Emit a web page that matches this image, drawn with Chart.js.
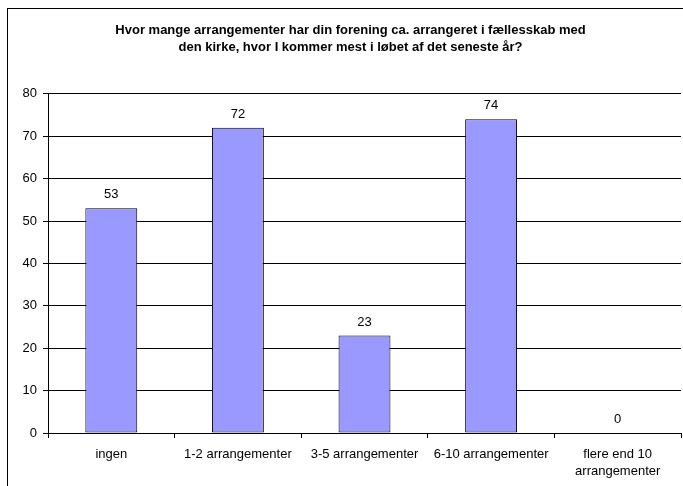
<!DOCTYPE html>
<html>
<head>
<meta charset="utf-8">
<script src="https://cdn.jsdelivr.net/npm/chart.js@4"></script>
<style>
  html, body { margin: 0; padding: 0; background: #fff; }
  #wrap { width: 683px; height: 486px; position: relative; }
</style>
</head>
<body>
<div id="wrap"><canvas id="chart" width="683" height="486"></canvas></div>
<script>
const categories = ['ingen', '1-2 arrangementer', '3-5 arrangementer', '6-10 arrangementer', ['flere end 10', 'arrangementer']];
const counts = [53, 72, 23, 74, 0];
const yTicks = [0, 10, 20, 30, 40, 50, 60, 70, 80];
const titleLines = ['Hvor mange arrangementer har din forening ca. arrangeret i fællesskab med', 'den kirke, hvor I kommer mest i løbet af det seneste år?'];

const FONT = 'Arial, "Liberation Sans", sans-serif';

// outer frame + value labels
const extras = {
  id: 'extras',
  beforeDraw(chart) {
    const ctx = chart.ctx;
    ctx.save();
    ctx.strokeStyle = '#000';
    ctx.lineWidth = 1;
    ctx.strokeRect(7.5, 8.5, 800, 600);
    ctx.restore();
  },
  afterDatasetsDraw(chart) {
    const ctx = chart.ctx;
    const meta = chart.getDatasetMeta(0);
    ctx.save();
    ctx.font = '13px ' + FONT;
    ctx.fillStyle = '#000';
    ctx.textAlign = 'center';
    ctx.textBaseline = 'bottom';
    meta.data.forEach((bar, i) => {
      ctx.fillText(String(counts[i]), bar.x, bar.y - 7);
    });
    ctx.restore();
  }
};

new Chart(document.getElementById('chart'), {
  type: 'bar',
  data: {
    labels: categories,
    datasets: [{
      data: counts,
      backgroundColor: '#9999ff',
      borderColor: '#000',
      borderWidth: 1,
      borderSkipped: false,
      categoryPercentage: 1,
      barPercentage: 0.41
    }]
  },
  options: {
    responsive: false,
    animation: false,
    layout: { padding: { left: 20, right: 2, top: 0, bottom: 0 } },
    plugins: {
      legend: { display: false },
      tooltip: { enabled: false },
      title: {
        display: true,
        text: titleLines,
        color: '#000',
        font: { family: FONT, size: 13, weight: 'bold', lineHeight: 1.3 },
        padding: { top: 22, bottom: 38 }
      }
    },
    scales: {
      y: {
        min: 0,
        max: 80,
        afterBuildTicks: axis => { axis.ticks = yTicks.map(v => ({ value: v })); },
        afterFit: axis => { axis.width = 28; },
        ticks: { color: '#000', font: { family: FONT, size: 13 }, padding: 6 },
        grid: { color: '#000', lineWidth: 1, tickLength: 5 },
        border: { color: '#000', width: 1 }
      },
      x: {
        afterFit: axis => { axis.height = 53; },
        ticks: { color: '#000', font: { family: FONT, size: 13, lineHeight: 1.3 }, padding: 8, maxRotation: 0, autoSkip: false },
        grid: { offset: true, drawOnChartArea: false, color: '#000', tickLength: 5 },
        border: { color: '#000', width: 1 }
      }
    }
  },
  plugins: [extras]
});
</script>
</body>
</html>
